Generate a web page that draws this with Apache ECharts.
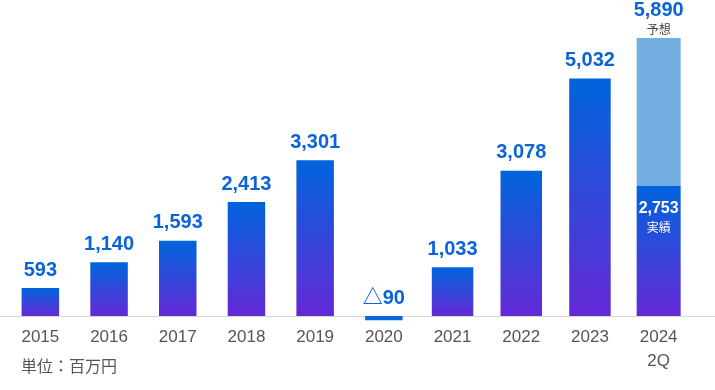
<!DOCTYPE html>
<html><head><meta charset="utf-8">
<script src="https://cdn.jsdelivr.net/npm/echarts@6/dist/echarts.min.js"></script>
<style>html,body{margin:0;padding:0;background:#fff}#c{width:715px;height:390px}</style>
</head><body><div id="c"></div>
<script>
// ---- data ----
const categories = ['2015','2016','2017','2018','2019','2020','2021','2022','2023','2024\n2Q'];
const actualValues = [593, 1140, 1593, 2413, 3301, -90, 1033, 3078, 5032, 2753];
const forecast2024 = 5890;
const unitLabel = '単位：百万円';
const forecastTag = '予想';
const actualTag = '実績';

// ---- style / layout ----
const FONT = '"Liberation Sans", Arial, "Noto Sans CJK JP", sans-serif';
const BLUE = '#0a64d9';
const FORECAST_COLOR = '#73ade2';
const Y_MIN = -500, Y_MAX = 6000;
const gridBox = { left: 6, right: 22, top: 32.8, bottom: 50.4, outerBoundsMode: 'none', containLabel: false };
// bar groups: [first index, last index, bar width]
const barGroups = [[0, 5, 37.5], [6, 8, 41.5], [9, 9, 44]];

const grad = () => new echarts.graphic.LinearGradient(0, 0, 0, 1, [
  { offset: 0, color: '#0064dc' }, { offset: 1, color: '#6429d7' }
]);
const fmt = n => (n < 0 ? '△' + Math.abs(n).toLocaleString('en-US') : n.toLocaleString('en-US'));
const last = categories.length - 1;

const grids = [], xAxes = [], yAxes = [], series = [];
barGroups.forEach((g, gi) => {
  grids.push(Object.assign({}, gridBox));
  xAxes.push({
    type: 'category', gridIndex: gi, data: categories, show: gi === 0,
    axisLine: { show: true, onZero: true, lineStyle: { opacity: 0 } }, axisTick: { show: false },
    axisLabel: { fontFamily: FONT, fontSize: 17, color: '#555', margin: -14.1, lineHeight: 24 }
  });
  yAxes.push({ type: 'value', gridIndex: gi, min: Y_MIN, max: Y_MAX, show: false });
  const isLast = g[0] === last;
  const data = actualValues.map((v, i) => (i >= g[0] && i <= g[1] ? v : '-'));
  series.push({
    type: 'bar', xAxisIndex: gi, yAxisIndex: gi, barWidth: g[2], stack: 's' + gi, data,
    itemStyle: { color: p => (p.value < 0 ? '#0a66de' : grad()) },
    label: isLast ? {
      show: true, position: 'insideTop', distance: 13,
      formatter: p => '{v|' + fmt(p.value) + '}\n{s|' + actualTag + '}',
      rich: {
        v: { fontFamily: FONT, fontSize: 16, fontWeight: 'bold', color: '#fff', lineHeight: 20 },
        s: { fontFamily: FONT, fontSize: 12, color: '#fff', lineHeight: 20 }
      }
    } : {
      show: true, position: 'top', distance: 8, formatter: p => fmt(p.value),
      fontFamily: FONT, fontSize: 20, fontWeight: 'bold', color: BLUE, lineHeight: 20
    }
  });
  if (isLast) {
    series.push({
      type: 'bar', xAxisIndex: gi, yAxisIndex: gi, barWidth: g[2], stack: 's' + gi,
      data: categories.map((c, i) => (i === last ? forecast2024 - actualValues[last] : '-')),
      itemStyle: { color: FORECAST_COLOR },
      label: {
        show: true, position: 'top', distance: -1,
        formatter: () => '{v|' + fmt(forecast2024) + '}\n{s|' + forecastTag + '}',
        rich: {
          v: { fontFamily: FONT, fontSize: 20, fontWeight: 'bold', color: BLUE, lineHeight: 26 },
          s: { fontFamily: FONT, fontSize: 12, color: '#444', lineHeight: 16 }
        }
      }
    });
  }
});
// full-width baseline
const gl = grids.length;
grids.push({ left: 0, right: 0, top: gridBox.top, bottom: gridBox.bottom, outerBoundsMode: 'none', containLabel: false });
xAxes.push({ type: 'category', gridIndex: gl, data: categories, axisTick: { show: false },
  axisLabel: { show: false }, axisLine: { show: true, onZero: true, lineStyle: { color: '#d6d6d6', width: 1 } }, z: 0 });
yAxes.push({ type: 'value', gridIndex: gl, min: Y_MIN, max: Y_MAX, show: false });

const chart = echarts.init(document.getElementById('c'), null, { renderer: 'canvas' });
chart.setOption({
  animation: false,
  backgroundColor: '#fff',
  title: { text: unitLabel, left: 21, top: 359.4, padding: 0,
    textStyle: { fontFamily: FONT, fontSize: 16, fontWeight: 'normal', color: '#555' } },
  grid: grids, xAxis: xAxes, yAxis: yAxes, series
});
</script></body></html>
